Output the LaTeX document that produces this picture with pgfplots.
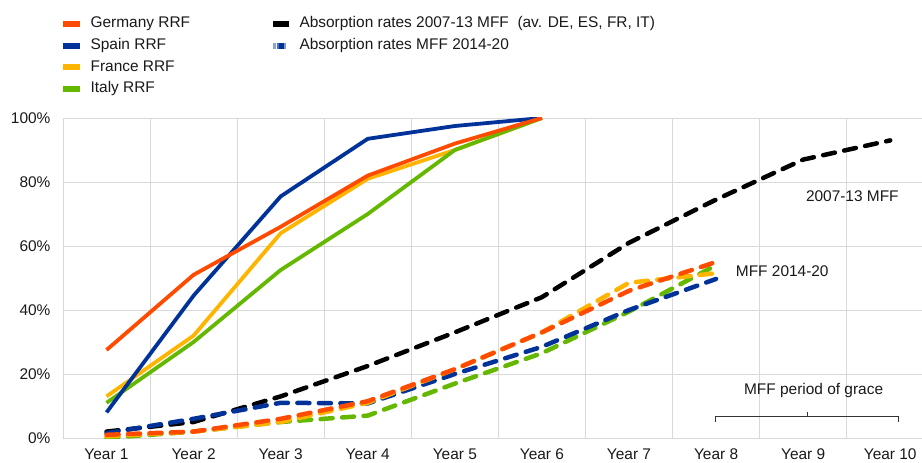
\documentclass[border=0pt]{standalone}
\usepackage{pgfplots}
\pgfplotsset{compat=1.18}
\usepackage{fontspec}
\setmainfont{Liberation Sans}
\definecolor{cOr}{HTML}{FF4B00}
\definecolor{cBl}{HTML}{003299}
\definecolor{cYe}{HTML}{FFB400}
\definecolor{cGr}{HTML}{65B800}
\definecolor{cGrid}{HTML}{D9D9D9}
\newcommand{\fs}{\fontsize{15.5}{18}\selectfont}
\begin{document}
\begin{tikzpicture}
\begin{axis}[
  name=ax, scale only axis, width=859bp, height=320bp,
  xmin=0.5, xmax=10.365, ymin=0, ymax=100,
  axis line style={draw=none},
  xtick={1,2,3,4,5,6,7,8,9,10},
  xticklabels={Year 1,Year 2,Year 3,Year 4,Year 5,Year 6,Year 7,Year 8,Year 9,Year 10},
  minor xtick={0.5,1.5,2.5,3.5,4.5,5.5,6.5,7.5,8.5,9.5},
  xminorgrids=true, xmajorgrids=false, ymajorgrids=true,
  grid style={draw=cGrid, line width=0.8bp},
  minor grid style={draw=cGrid, line width=0.8bp},
  ytick={0,20,40,60,80,100},
  yticklabel={\pgfmathprintnumber{\tick}\%},
  major tick length=0pt, minor tick length=0pt,
  tick label style={font=\fs, text=black!90},
  yticklabel style={xshift=-9bp},
  xticklabel style={yshift=-7bp},
  /pgf/number format/assume math mode=true,
  legend columns=2,
  legend style={draw=none, fill=none, at={(axis description cs:0,1)}, anchor=north west,
    xshift=0bp, yshift=102bp, font=\fs, text=black!90,
    legend cell align=left, inner sep=0pt, row sep=6.7bp,
    nodes={inner sep=0pt, text height=11.5bp, text depth=3.5bp},
    /tikz/every even column/.append style={column sep=83bp},
    /tikz/every odd column/.append style={column sep=11bp}},
]
% solid RRF lines
\addplot[cYe, line width=3.8bp, forget plot] coordinates {(1,13) (2,32) (3,64) (4,81) (5,90) (6,100)};
\addplot[cGr, line width=3.8bp, forget plot] coordinates {(1,11) (2,30) (3,52.5) (4,70) (5,90) (6,100)};
\addplot[cBl, line width=3.8bp, forget plot] coordinates {(1,8) (2,44.5) (3,75.5) (4,93.5) (5,97.5) (6,100)};
\addplot[cOr, line width=3.8bp, forget plot] coordinates {(1,27.5) (2,51) (3,66) (4,82) (5,92) (6,100)};
% dashed absorption lines
\addplot[black, line width=4.5bp, line cap=round, dash pattern=on 12bp off 9.5bp, forget plot] coordinates {(1,2) (2,5) (3,13) (4,22.5) (5,33) (6,44) (7,61) (8,74.5) (9,87) (10,93)};
\addplot[cGr, line width=4.5bp, line cap=round, dash pattern=on 12bp off 9.5bp, forget plot] coordinates {(1,0) (2,2) (3,5) (4,7) (5,17) (6,26.5) (7,39.5) (8,54)};
\addplot[cBl, line width=4.5bp, line cap=round, dash pattern=on 12bp off 9.5bp, forget plot] coordinates {(1,1.5) (2,6) (3,11) (4,10.8) (5,20) (6,28.5) (7,40) (8,49.7)};
\addplot[cYe, line width=4.5bp, line cap=round, dash pattern=on 12bp off 9.5bp, forget plot] coordinates {(1,0.5) (2,2) (3,5) (4,11) (5,21.5) (6,33) (7,48.5) (8,51.5)};
\addplot[cOr, line width=4.5bp, line cap=round, dash pattern=on 12bp off 9.5bp, forget plot] coordinates {(1,1) (2,2) (3,6) (4,11.5) (5,21.5) (6,33) (7,46) (8,55)};
% legend
\addlegendimage{legend image code/.code={\fill[cOr] (0bp,-2.5bp) rectangle (16bp,2.5bp);}}
\addlegendentry{Germany RRF}
\addlegendimage{legend image code/.code={\fill[black] (0bp,-2.5bp) rectangle (15bp,2.5bp);}}
\addlegendentry{Absorption rates 2007-13 MFF\ \ (av. DE, ES, FR, IT)}
\addlegendimage{legend image code/.code={\fill[cBl] (0bp,-2.5bp) rectangle (16bp,2.5bp);}}
\addlegendentry{Spain RRF}
\addlegendimage{legend image code/.code={\fill[cBl!45] (0bp,-2.5bp) rectangle (1.5bp,2.5bp);\fill[cBl!70] (4bp,-2.5bp) rectangle (5.5bp,2.5bp);\fill[cBl] (5.5bp,-2.5bp) rectangle (10.5bp,2.5bp);\fill[cBl!50] (10.5bp,-2.5bp) rectangle (12bp,2.5bp);}}
\addlegendentry{Absorption rates MFF 2014-20}
\addlegendimage{legend image code/.code={\fill[cYe] (0bp,-2.5bp) rectangle (16bp,2.5bp);}}
\addlegendentry{France RRF}
\addlegendimage{empty legend}
\addlegendentry{}
\addlegendimage{legend image code/.code={\fill[cGr] (0bp,-2.5bp) rectangle (16bp,2.5bp);}}
\addlegendentry{Italy RRF}
\addlegendimage{empty legend}
\addlegendentry{}
% annotations
\node[font=\fs, text=black!90] at (axis cs:9.565,75.7) {2007-13 MFF};
\node[font=\fs, text=black!90] at (axis cs:8.76,52) {MFF 2014-20};
\node[font=\fs, text=black!90] at (axis cs:9.12,14.7) {MFF period of grace};
\draw[black!80, line width=1bp] (axis cs:7.99,5.0) -- (axis cs:7.99,6.57) -- (axis cs:10.10,6.57) -- (axis cs:10.10,5.0);
\draw[black!80, line width=1bp] (axis cs:9.05,6.57) -- (axis cs:9.05,8.1);
\end{axis}
\pgfresetboundingbox
\path[use as bounding box] ([xshift=-63bp,yshift=-25bp]ax.south west) rectangle ([yshift=118bp]ax.north east);
\end{tikzpicture}
\end{document}
